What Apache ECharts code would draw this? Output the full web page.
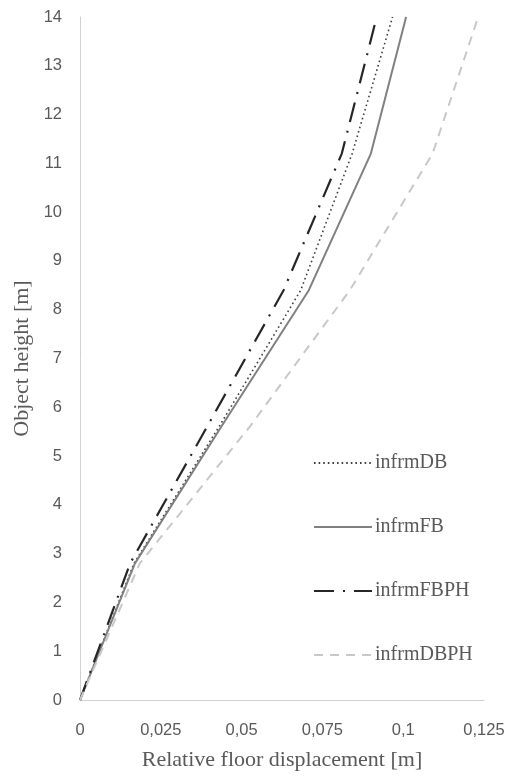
<!DOCTYPE html>
<html>
<head>
<meta charset="utf-8">
<script src="https://cdn.jsdelivr.net/npm/echarts@6/dist/echarts.min.js"></script>
<style>html,body{margin:0;padding:0;background:#fff}#c{width:508px;height:776px}</style>
</head>
<body>
<div id="c"></div>
<script>
var heights = [0, 2.8, 5.6, 8.4, 11.2, 14];
var infrmDB   = [0, 0.0167, 0.0430, 0.0683, 0.0842, 0.0967];
var infrmFB   = [0, 0.0170, 0.0437, 0.0708, 0.0900, 0.1009];
var infrmFBPH = [0, 0.0155, 0.0393, 0.0630, 0.0810, 0.0918];
var infrmDBPH = [0, 0.0185, 0.0525, 0.0835, 0.1091, 0.1232];
var seriesNames = ['infrmDB', 'infrmFB', 'infrmFBPH', 'infrmDBPH'];

function pts(xs) { return xs.map(function (x, i) { return [x, heights[i]]; }); }

var chart = echarts.init(document.getElementById('c'));
chart.setOption({
  animation: false,
  backgroundColor: '#fff',
  grid: { left: 80, right: 24, top: 17, bottom: 71 },
  xAxis: {
    type: 'value', min: 0, max: 0.125, interval: 0.025,
    name: 'Relative floor displacement [m]', nameLocation: 'middle', nameGap: 49,
    nameTextStyle: { fontFamily: 'Liberation Serif', fontSize: 22, color: '#595959' },
    axisLine: { show: true, lineStyle: { color: '#d0d0d0', width: 1 } },
    axisTick: { show: false },
    splitLine: { show: false },
    axisLabel: { margin: 22, fontFamily: 'Liberation Sans', fontSize: 16.5, color: '#595959',
      formatter: function (v) { return String(Math.round(v * 1000) / 1000).replace('.', ','); } }
  },
  yAxis: {
    type: 'value', min: 0, max: 14, interval: 1,
    name: 'Object height [m]', nameLocation: 'middle', nameGap: 43,
    nameTextStyle: { fontFamily: 'Liberation Serif', fontSize: 22, color: '#595959' },
    axisLine: { show: true, lineStyle: { color: '#d0d0d0', width: 1 } },
    axisTick: { show: false },
    splitLine: { show: false },
    axisLabel: { margin: 18, fontFamily: 'Liberation Sans', fontSize: 16.5, color: '#595959' }
  },
  legend: {
    orient: 'vertical', left: 308, top: 448, itemWidth: 58, itemHeight: 20, itemGap: 44,
    itemStyle: { opacity: 0 },
    textStyle: { fontFamily: 'Liberation Serif', fontSize: 20, lineHeight: 20, color: '#595959', padding: [0, 0, 0, -2] },
    data: seriesNames
  },
  series: [
    { name: 'infrmDB', type: 'line', data: pts(infrmDB), symbol: 'none',
      lineStyle: { color: '#404040', width: 1.6, type: [1.6, 3] }, itemStyle: { color: '#404040' } },
    { name: 'infrmFB', type: 'line', data: pts(infrmFB), symbol: 'none',
      lineStyle: { color: '#808080', width: 2, type: 'solid' }, itemStyle: { color: '#808080' } },
    { name: 'infrmFBPH', type: 'line', data: pts(infrmFBPH), symbol: 'none',
      lineStyle: { color: '#262626', width: 2.2, type: [20, 9, 2, 9] }, itemStyle: { color: '#262626' } },
    { name: 'infrmDBPH', type: 'line', data: pts(infrmDBPH), symbol: 'none',
      lineStyle: { color: '#c8c8c8', width: 2, type: [9, 7] }, itemStyle: { color: '#c8c8c8' } }
  ]
});
</script>
</body>
</html>
